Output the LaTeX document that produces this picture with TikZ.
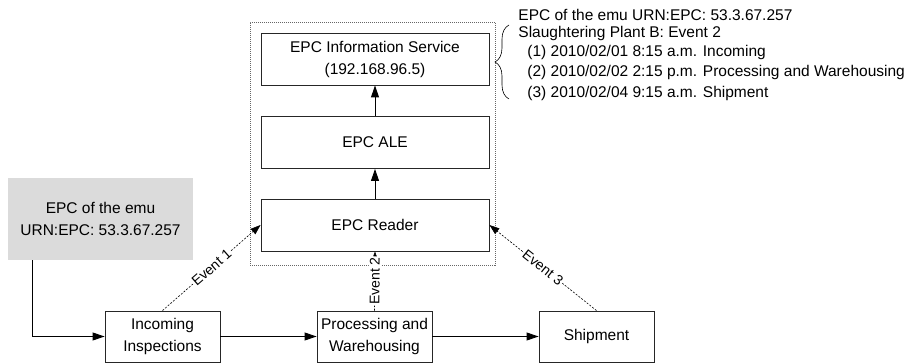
\documentclass[tikz,border=0pt]{standalone}
\usepackage{fontspec}
\setmainfont{Liberation Sans}
\usepackage{tikz}
\usetikzlibrary{arrows.meta,decorations.pathreplacing}

\begin{document}
\begin{tikzpicture}[x=1pt,y=-1pt,line width=0.9pt,
  font=\fontsize{15.5}{22}\selectfont,
  box/.style={draw=black!85,rectangle,align=center,minimum width=228pt,minimum height=52pt},
  stepbox/.style={draw=black!85,rectangle,align=center,minimum width=115pt,minimum height=51pt,inner sep=0pt},
  evline/.style={dash pattern=on 2pt off 1.5pt,line width=0.6pt,-{Triangle[length=10pt,width=7pt]}},
  evlabel/.style={font=\fontsize{14}{16}\selectfont,fill=white,inner sep=1pt,sloped},
  ann/.style={anchor=west,inner sep=0pt}]

  \useasboundingbox (0,0) rectangle (907,363);

  \begin{scope}[-{Triangle[length=12pt,width=8pt]}]
  \node [draw=black!60,dash pattern=on 1pt off 1pt,line width=0.8pt,rectangle,minimum width=245pt,minimum height=243pt] (epc) at (372.5,143.5) {};
  \node [box] (is) at (375,59) {EPC Information Service\\(192.168.96.5)};
  \node [box] (ale) at (375,142.5) {EPC ALE};
  \node [box] (reader) at (375,225) {EPC Reader};
  \path (reader) edge (ale);
  \path (ale) edge (is);

  \node [fill=black!14,rectangle,align=center,minimum width=185pt,minimum height=82pt] (emu) at (100.5,219) {EPC of the emu\\URN:EPC: 53.3.67.257};

  \node [stepbox] (inc) at (162.5,336.5) {Incoming\\Inspections};
  \node [stepbox] (proc) at (374.5,336.5) {Processing and\\Warehousing};
  \node [stepbox] (ship) at (596.5,336.5) {Shipment};
  \draw ([xshift=25pt]emu.south west) |- (inc.west);
  \path (inc) edge (proc);
  \path (proc) edge (ship);
  \end{scope}

  % events read by the reader
  \path [evline] (inc.north) edge node [evlabel] {Event 1} (reader.west);
  \path [evline] (proc.north) edge node [evlabel] {Event 2} (reader.south);
  \path [evline] (ship.north) edge node [evlabel] {Event 3} (reader.east);

  \node [ann] (a0) at (518,15) {EPC of the emu URN:EPC: 53.3.67.257};
  \node [ann] (a1) at (518,33) {Slaughtering Plant B: Event 2};
  \node [ann] (a2) at (527,52) {(1) 2010/02/01 8:15 a.m. Incoming};
  \node [ann] (a3) at (527,72) {(2) 2010/02/02 2:15 p.m. Processing and Warehousing};
  \node [ann] (a4) at (527,93) {(3) 2010/02/04 9:15 a.m. Shipment};
  \coordinate (bt) at (509,25);
  \coordinate (bb) at (509,99);
  \draw [line width=0.6pt,decorate,decoration={brace,amplitude=14pt}] (bb) -- (bt);

\end{tikzpicture}
\end{document}
